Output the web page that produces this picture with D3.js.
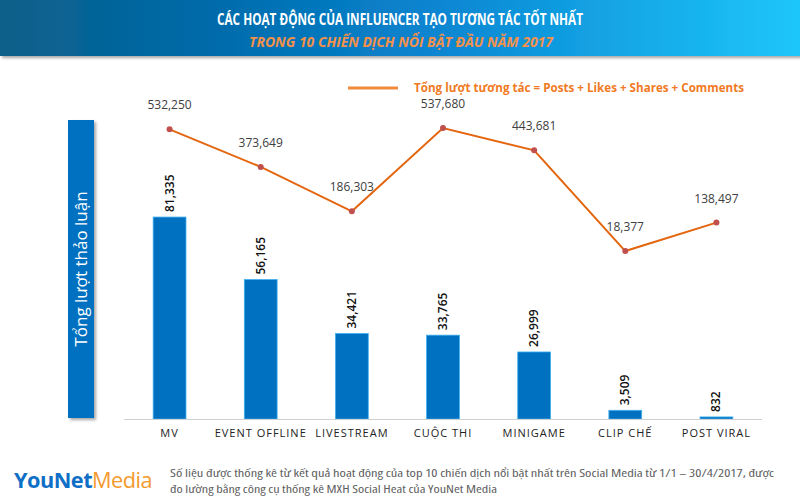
<!DOCTYPE html>
<html>
<head>
<meta charset="utf-8">
<script src="https://cdn.jsdelivr.net/npm/d3@7"></script>
<style>
  body { margin: 0; background: #fff; }
  svg { display: block; font-family: 'Open Sans', 'Noto Sans', sans-serif; }
</style>
</head>
<body>
<div id="chart"></div>
<script>
// Data
var categories = ['MV', 'EVENT OFFLINE', 'LIVESTREAM', 'CUỘC THI', 'MINIGAME', 'CLIP CHẾ', 'POST VIRAL']
var discussions = [81335, 56165, 34421, 33765, 26999, 3509, 832]
var interactions = [532250, 373649, 186303, 537680, 443681, 18377, 138497]

var titleText = 'CÁC HOẠT ĐỘNG CỦA INFLUENCER TẠO TƯƠNG TÁC TỐT NHẤT'
var subtitleText = 'TRONG 10 CHIẾN DỊCH NỔI BẬT ĐẦU NĂM 2017'
var legendText = 'Tổng lượt tương tác = Posts + Likes + Shares + Comments'
var yLabelText = 'Tổng lượt thảo luận'
var footerLines = [
  'Số liệu được thống kê từ kết quả hoạt động của top 10 chiến dịch nổi bật nhất trên Social Media từ 1/1 – 30/4/2017, được',
  'đo lường bằng công cụ thống kê MXH Social Heat của YouNet Media'
]

var width = 800
var height = 500
var fmt = d3.format(',')

var svg = d3.select('#chart').append('svg')
  .attr('width', width)
  .attr('height', height)

var defs = svg.append('defs')

var grad = defs.append('linearGradient')
  .attr('id', 'headGrad')
  .attr('x1', '0%').attr('x2', '100%')
  .attr('y1', '0%').attr('y2', '0%')
grad.append('stop').attr('offset', '0%').attr('stop-color', '#0b6088')
grad.append('stop').attr('offset', '25%').attr('stop-color', '#0069a8')
grad.append('stop').attr('offset', '55%').attr('stop-color', '#0a86d2')
grad.append('stop').attr('offset', '100%').attr('stop-color', '#1ec6fa')

var shadow = defs.append('filter').attr('id', 'shadow')
  .attr('x', '-20%').attr('y', '-20%').attr('width', '150%').attr('height', '150%')
shadow.append('feDropShadow')
  .attr('dx', 2).attr('dy', 2).attr('stdDeviation', 1.5)
  .attr('flood-color', '#000').attr('flood-opacity', 0.35)

// Header band
svg.append('rect')
  .attr('x', 0).attr('y', 0)
  .attr('width', width).attr('height', 56)
  .attr('fill', 'url(#headGrad)')
  .attr('filter', 'url(#shadow)')

svg.append('text')
  .attr('x', 400).attr('y', 25)
  .attr('text-anchor', 'middle')
  .attr('textLength', 366)
  .attr('lengthAdjust', 'spacingAndGlyphs')
  .style('font-size', '16px')
  .style('font-weight', 'bold')
  .style('fill', '#fff')
  .text(titleText)

svg.append('text')
  .attr('x', 401).attr('y', 47)
  .attr('text-anchor', 'middle')
  .attr('textLength', 304)
  .attr('lengthAdjust', 'spacingAndGlyphs')
  .style('font-size', '14px')
  .style('font-weight', 'bold')
  .style('font-style', 'italic')
  .style('fill', '#f4914a')
  .text(subtitleText)

// Scales
var x = d3.scaleBand()
  .domain(categories)
  .range([124, 762])
  .paddingInner(0.64)
  .paddingOuter(0.32)

var yBar = d3.scaleLinear()
  .domain([0, 100000])
  .range([419, 170.7])

var yLine = d3.scaleLinear()
  .domain([0, 600000])
  .range([255.4, 113.3])

// Y label box
svg.append('rect')
  .attr('x', 68).attr('y', 120)
  .attr('width', 26).attr('height', 298)
  .attr('fill', '#0070c0')
  .attr('filter', 'url(#shadow)')

svg.append('text')
  .attr('transform', 'translate(87,269) rotate(-90)')
  .attr('text-anchor', 'middle')
  .style('font-size', '17px')
  .style('fill', '#fff')
  .text(yLabelText)

// Bars
svg.selectAll('.bar')
  .data(discussions)
  .enter().append('rect')
  .attr('class', 'bar')
  .attr('x', function (d, i) { return x(categories[i]) })
  .attr('y', function (d) { return yBar(d) })
  .attr('width', x.bandwidth())
  .attr('height', function (d) { return yBar(0) - yBar(d) })
  .attr('fill', '#0070c0')
  .attr('stroke', '#3fb0f0')
  .attr('stroke-width', 0.8)

svg.selectAll('.barLabel')
  .data(discussions)
  .enter().append('text')
  .attr('class', 'barLabel')
  .attr('transform', function (d, i) {
    return 'translate(' + (x(categories[i]) + x.bandwidth() / 2 + 4) + ',' + (yBar(d) - 5) + ') rotate(-90)'
  })
  .style('font-size', '12px')
  .style('font-weight', '600')
  .style('fill', '#111')
  .text(function (d) { return fmt(d) })

// X axis
var xAxis = svg.append('g')
  .attr('transform', 'translate(0,' + yBar(0) + ')')
  .call(d3.axisBottom(x).tickSize(0).tickPadding(10))
xAxis.select('.domain').attr('stroke', '#d0d0d0').attr('d', 'M124,0.5H762')
xAxis.selectAll('text')
  .style('font-family', "'Open Sans', sans-serif")
  .style('font-size', '11px')
  .style('letter-spacing', '1px')
  .style('fill', '#222')

// Line series
var line = d3.line()
  .x(function (d, i) { return x(categories[i]) + x.bandwidth() / 2 })
  .y(function (d) { return yLine(d) })

svg.append('path')
  .datum(interactions)
  .attr('d', line)
  .attr('fill', 'none')
  .attr('stroke', '#e3650e')
  .attr('stroke-width', 2)

svg.selectAll('.dot')
  .data(interactions)
  .enter().append('circle')
  .attr('cx', function (d, i) { return x(categories[i]) + x.bandwidth() / 2 })
  .attr('cy', function (d) { return yLine(d) })
  .attr('r', 3)
  .attr('fill', '#c0504d')

svg.selectAll('.lineLabel')
  .data(interactions)
  .enter().append('text')
  .attr('x', function (d, i) { return x(categories[i]) + x.bandwidth() / 2 })
  .attr('y', function (d) { return yLine(d) - 20 })
  .attr('text-anchor', 'middle')
  .style('font-size', '12px')
  .style('fill', '#404040')
  .text(function (d) { return fmt(d) })

// Legend
svg.append('line')
  .attr('x1', 348).attr('x2', 398)
  .attr('y1', 88).attr('y2', 88)
  .attr('stroke', '#f08a3c')
  .attr('stroke-width', 3)

svg.append('text')
  .attr('x', 414).attr('y', 92)
  .attr('textLength', 330)
  .attr('lengthAdjust', 'spacingAndGlyphs')
  .style('font-size', '12px')
  .style('font-weight', 'bold')
  .style('fill', '#f07a24')
  .text(legendText)

// Footer logo
var logo = svg.append('text')
  .attr('x', 14).attr('y', 488)
  .attr('textLength', 138)
  .attr('lengthAdjust', 'spacingAndGlyphs')
  .style('font-size', '21px')
  .style('font-weight', 'bold')
  .style('letter-spacing', '-0.5px')
logo.append('tspan').style('fill', '#0f6fc6').text('YouNet')
logo.append('tspan').style('fill', '#f39a2e').style('font-weight', 'normal').text('Media')

svg.selectAll('.footer')
  .data(footerLines)
  .enter().append('text')
  .attr('x', 170)
  .attr('y', function (d, i) { return 477 + i * 16 })
  .attr('textLength', function (d, i) { return i === 0 ? 604 : 327 })
  .attr('lengthAdjust', 'spacingAndGlyphs')
  .style('font-size', '11px')
  .style('font-stretch', 'condensed')
  .style('fill', '#606060')
  .text(function (d) { return d })
</script>
</body>
</html>
